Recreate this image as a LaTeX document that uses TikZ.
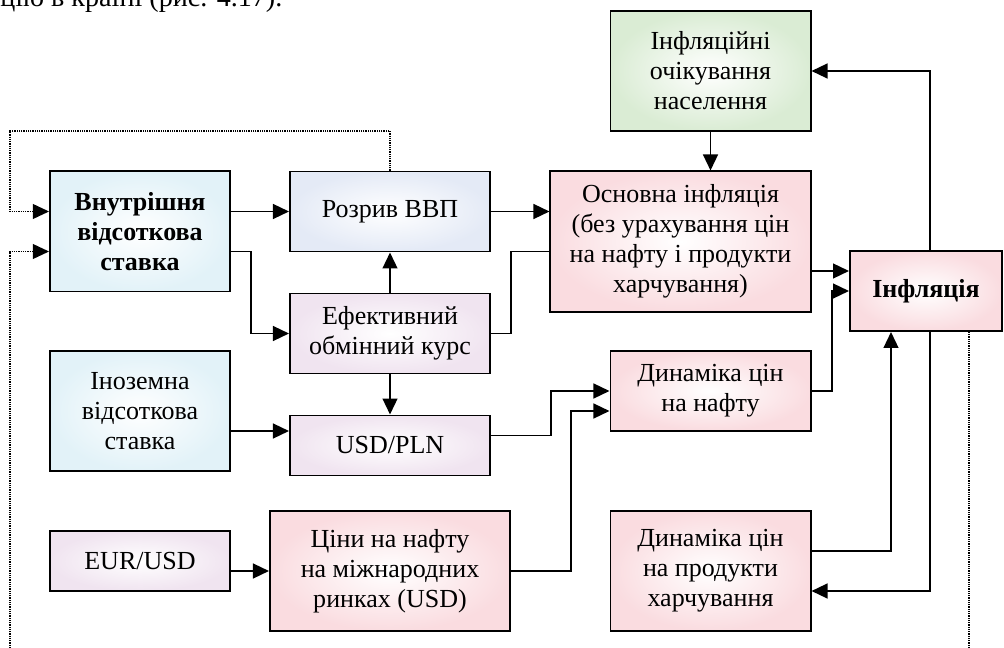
\documentclass[tikz,border=0pt]{standalone}
\usepackage{fontspec}
\setmainfont{Liberation Serif}
\usetikzlibrary{positioning, calc, arrows.meta}
\definecolor{rateblue}{RGB}{226, 242, 248}
\definecolor{gapblue}{RGB}{228, 234, 246}
\definecolor{lilac}{RGB}{240, 228, 240}
\definecolor{rosy}{RGB}{250, 220, 224}
\definecolor{sage}{RGB}{218, 236, 212}

\begin{document}
\begin{tikzpicture}[
    x=0.025cm, y=-0.025cm,
    node distance=1cm and 1.5cm,
    boxnode/.style={draw=black, line width=1.4pt, align=center, inner sep=2pt, font=\fontsize{18.5}{21.3}\selectfont, inner color=white},
    boldtext/.style={font=\fontsize{18.5}{21.3}\selectfont\bfseries},
    arrow/.style={-{Triangle[length=0.4cm, width=0.37cm]}, line width=1.4pt},
    link/.style={line width=1.4pt},
    dotline/.style={line width=0.8pt, dash pattern=on 0.8pt off 0.8pt},
    dotarrow/.style={dotline, -{Triangle[length=0.4cm, width=0.37cm]}}
]
    \useasboundingbox (0,0) rectangle (1004,648);
    \clip (0,0) rectangle (1004,648);

    \node[anchor=base west, inner sep=0pt, font=\fontsize{20}{24}\selectfont] (caption) at (0,7) {цію в країні (рис. 4.17).};

    % left column
    \node[boxnode, boldtext, outer color=rateblue, minimum width=4.5cm, minimum height=3cm] (rate) at (140,231.5) {Внутрішня\\відсоткова\\ставка};
    \node[boxnode, outer color=rateblue, minimum width=4.5cm, minimum height=3cm] (forrate) at (140,411) {Іноземна\\відсоткова\\ставка};
    \node[boxnode, outer color=lilac, minimum width=4.5cm, minimum height=1.5cm] (eurusd) at (140,561) {EUR/USD};

    % middle column
    \node[boxnode, outer color=gapblue, minimum width=5cm, minimum height=2cm] (gap) at (390,211.5) {Розрив ВВП};
    \node[boxnode, outer color=lilac, minimum width=5cm, minimum height=2cm, below=of gap] (reer) {Ефективний\\обмінний курс};
    \node[boxnode, outer color=lilac, minimum width=5cm, minimum height=1.5cm, below=of reer] (usdpln) {USD/PLN};
    \node[boxnode, outer color=rosy, minimum width=6cm, minimum height=3cm] (oilworld) at (390,571) {Ціни на нафту\\на міжнародних\\ринках (USD)};

    % right part
    \node[boxnode, outer color=sage, minimum width=5cm, minimum height=3cm] (expect) at (710.5,71) {Інфляційні\\очікування\\населення};
    \node[boxnode, outer color=rosy, minimum width=6.5cm, minimum height=3.5cm] (core) at (680.5,241.5) {Основна інфляція\\(без урахування цін\\на нафту і продукти\\харчування)};
    \node[boxnode, outer color=rosy, minimum width=5cm, minimum height=2cm] (oil) at (710.5,391) {Динаміка цін\\на нафту};
    \node[boxnode, outer color=rosy, minimum width=5cm, minimum height=3cm] (food) at (710.5,571) {Динаміка цін\\на продукти\\харчування};
    \node[boxnode, boldtext, outer color=rosy, minimum width=3.8cm, minimum height=2cm] (infl) at (926,291) {Інфляція};

    \coordinate (nw) at (10,131);
    \coordinate (sw) at (10,648);
    \coordinate (se) at (969,648);

    \draw[arrow] (rate.east |- gap.west) -- (gap.west);
    \draw[arrow] ([yshift=-0.5cm]rate.east) -- ++(0.5cm,0) |- (reer.west);
    \draw[arrow] (reer) -- (gap);
    \draw[arrow] (reer) -- (usdpln);
    \draw[arrow] ([yshift=-0.5cm]forrate.east) -- ([yshift=-0.5cm]forrate.east -| usdpln.west);
    \draw[arrow] (eurusd.east |- oilworld.west) -- (oilworld.west);
    \draw[arrow] (gap.east) -- (gap.east -| core.west);
    \draw[link] (reer.east) -- ++(0.5cm,0) |- ([yshift=-0.25cm]core.west);
    \draw[arrow] ([yshift=0.25cm]usdpln.east) -- ++(1.5cm,0) |- (oil.west);
    \draw[arrow] (oilworld.east) -- ++(1.5cm,0) |- ([yshift=-0.5cm]oil.west);
    \draw[arrow] ([yshift=0.5cm]infl.west -| core.east) -- ([yshift=0.5cm]infl.west);
    \draw[arrow] (oil.east) -- ++(0.5cm,0) |- (infl.west);
    \draw[arrow] (expect.south) -- (expect.south |- core.north);
    \draw[arrow] ([xshift=0.1cm]infl.north) |- (expect.east);
    \draw[arrow] ([yshift=0.5cm]food.east) -| ([xshift=-0.875cm]infl.south);
    \draw[arrow] ([xshift=0.1cm]infl.south) |- ([yshift=-0.5cm]food.east);

    % feedback loops
    \draw[dotarrow] (gap.north) |- (nw) |- ([yshift=0.5cm]rate.west);
    \draw[dotarrow] (sw) |- ([yshift=-0.5cm]rate.west);
    \draw[dotline] (se |- infl.south) -- (se);
\end{tikzpicture}
\end{document}
